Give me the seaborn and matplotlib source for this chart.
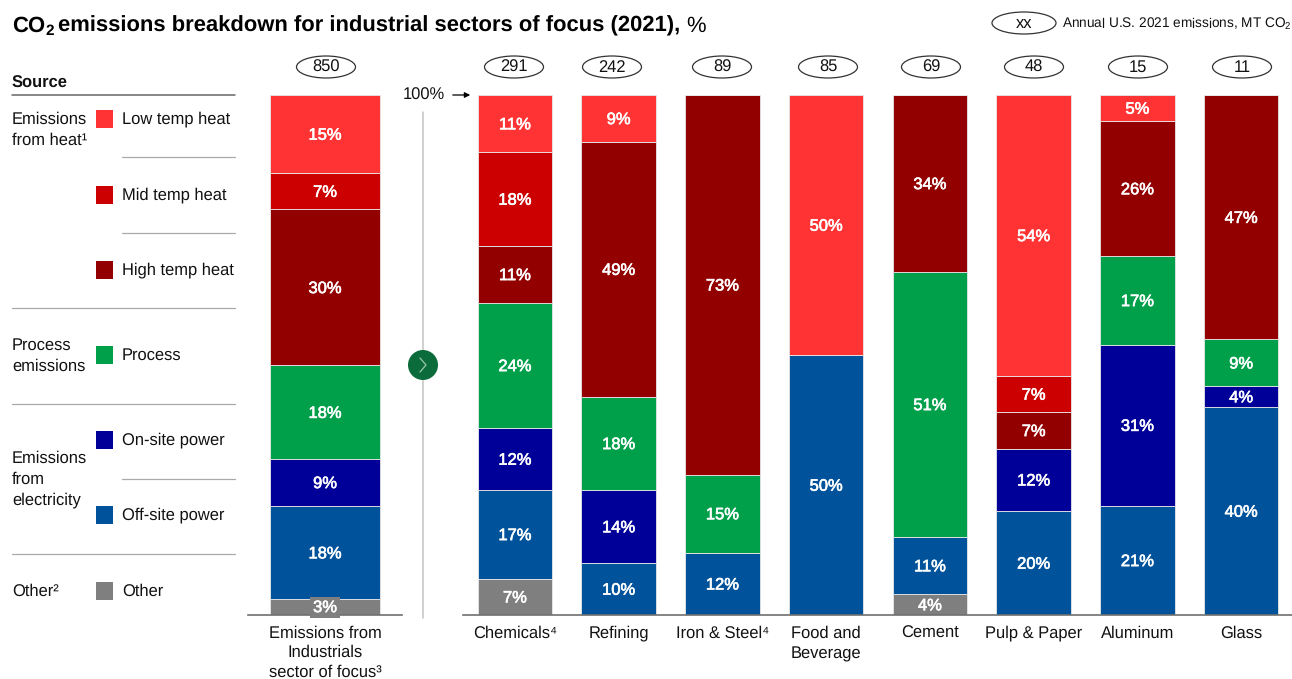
import matplotlib
matplotlib.use("Agg")
import matplotlib.pyplot as plt
import matplotlib.patheffects as pe
from matplotlib.patches import Ellipse, Circle, Rectangle
import pandas as pd
import seaborn as sns

sns.set_theme(style="white")
plt.rcParams["font.family"] = ["Liberation Sans", "DejaVu Sans"]
plt.rcParams["mathtext.fontset"] = "custom"
plt.rcParams["mathtext.rm"] = "Liberation Sans"
plt.rcParams["mathtext.bf"] = "Liberation Sans:bold"
plt.rcParams["mathtext.default"] = "regular"
plt.rcParams["text.hinting"] = "no_hinting"

# Source categories, bottom of the stack first
sources = ["Other", "Off-site power", "On-site power", "Process",
           "High temp heat", "Mid temp heat", "Low temp heat"]
colors = ["#7F7F7F", "#00539B", "#000099", "#009F4A", "#930000", "#CC0000", "#FF3333"]

total_label = "Emissions from\nIndustrials\nsector of focus³"
total_emissions = 850
total_share = [3, 18, 9, 18, 30, 7, 15]

sectors = ["Chemicals⁴", "Refining", "Iron & Steel⁴", "Food and\nBeverage",
           "Cement", "Pulp & Paper", "Aluminum", "Glass"]
sector_emissions = [291, 242, 89, 85, 69, 48, 15, 11]

other = [7, 0, 0, 0, 4, 0, 0, 0]
off_site = [17, 10, 12, 50, 11, 20, 21, 40]
on_site = [12, 14, 0, 0, 0, 12, 31, 4]
process = [24, 18, 15, 0, 51, 0, 17, 9]
high_temp = [11, 49, 73, 0, 34, 7, 26, 47]
mid_temp = [18, 0, 0, 0, 0, 7, 0, 0]
low_temp = [11, 9, 0, 50, 0, 54, 5, 0]
sector_share = [other, off_site, on_site, process, high_temp, mid_temp, low_temp]

W, H = 1292, 679
FS = 11.9
fig = plt.figure(figsize=(W / 100, H / 100), dpi=100, facecolor="white")


def px_axes(x0, x1, y_top=95, y_base=615):
    return fig.add_axes([x0 / W, 1 - y_base / H, (x1 - x0) / W, (y_base - y_top) / H])


def stacked(ax, names, layers, width, spacing):
    """Draw one stacked seaborn bar layer per source and print its share."""
    bottom = [0] * len(names)
    stroke = [pe.withStroke(linewidth=0.45, foreground="white")]
    for src, col, vals in zip(sources, colors, layers):
        df = pd.DataFrame({"name": names, "share": vals})
        before = len(ax.containers)
        sns.barplot(data=df, x="name", y="share", ax=ax, color=col, width=width,
                    bottom=bottom, errorbar=None, saturation=1,
                    edgecolor="#E8E8E8", linewidth=0.6)
        cont = ax.containers[before]
        for patch, v, b in zip(cont, vals, bottom):
            if v > 0:
                box = None
                if v == 3:
                    box = dict(facecolor=col, edgecolor="none", pad=2.0)
                ax.text(patch.get_x() + patch.get_width() / 2, b + v / 2 - (0.25 if v > 3 else 0.1),
                        f"{v}%", ha="center", va="center", color="white",
                        fontsize=FS, bbox=box, zorder=5, path_effects=stroke, clip_on=False)
        bottom = [b + v for b, v in zip(bottom, vals)]
    ax.set_ylim(0, 100)
    ax.set_xlabel("")
    ax.set_ylabel("")
    ax.set_yticks([])
    sns.despine(ax=ax, left=True, top=True, right=True)
    ax.spines["bottom"].set_color("#707070")
    ax.spines["bottom"].set_linewidth(1.2)
    ax.tick_params(axis="x", length=0, pad=7.5, labelsize=FS, labelcolor="#111111")
    for lab in ax.get_xticklabels():
        lab.set_va("top")
        lab.set_linespacing(spacing)


ax_total = px_axes(248, 402)
stacked(ax_total, [total_label], [[v] for v in total_share], 110 / 154, 1.3)
ax_total.set_xlim(-0.5, 0.5)

ax_sect = px_axes(463, 1293)
stacked(ax_sect, sectors, sector_share, 0.72, 1.4)
ax_sect.set_xlim(-0.5, 7.5)

# Overlay in pixel units for the key, rules and emission ovals
ov = fig.add_axes([0, 0, 1, 1], zorder=10)
ov.set_xlim(0, W)
ov.set_ylim(H, 0)
ov.axis("off")
ov.patch.set_alpha(0)

TXT = "#111111"
ov.text(12, 26, "$\\mathbf{CO_2}$", fontsize=15.8, va="center", ha="left", color="black")
ov.text(58.5, 26, "emissions breakdown for industrial sectors of focus (2021),", fontsize=15.8,
        fontweight="bold", va="center", ha="left", color="black")
ov.text(686, 26, "%", fontsize=15.8, va="center", ha="left", color="black")

ov.text(12, 83.5, "Source", fontsize=FS, fontweight="bold", va="center", color=TXT)
ov.plot([12, 235], [95, 95], color="#666666", lw=1.1)
for x0, y in [(122, 157), (122, 233), (12, 308), (12, 404), (122, 479), (12, 554)]:
    ov.plot([x0, 235], [y, y], color="#AAAAAA", lw=0.9)

key_y = {"Low temp heat": 119, "Mid temp heat": 195, "High temp heat": 270, "Process": 355,
         "On-site power": 440, "Off-site power": 515, "Other": 591}
for src, col in zip(sources, colors):
    y = key_y[src]
    ov.add_patch(Rectangle((96, y - 9), 17, 18, facecolor=col, edgecolor="none"))
    ov.text(122, y + 0.5, src, fontsize=FS, va="center", color=TXT)

group_labels = [("Emissions\nfrom heat¹", 130), ("Process\nemissions", 356),
                ("Emissions\nfrom\nelectricity", 479), ("Other²", 591)]
for label, y in group_labels:
    ov.text(12, y, label, fontsize=FS, va="center", color=TXT, linespacing=1.4)


def oval(x, y, w, label, size=FS):
    ov.add_patch(Ellipse((x, y), w, 22, facecolor="white", edgecolor="#333333", lw=0.9))
    ov.text(x, y + 0.5, label, ha="center", va="center", fontsize=size, color=TXT)


oval(326, 67, 59, str(total_emissions))
for x, v in zip([514, 612, 722, 828, 931, 1034, 1138, 1242], sector_emissions):
    oval(x, 67, 59, str(v))
oval(1024, 23, 64, "xx")
ov.text(1062, 24, "Annual U.S. 2021 emissions, MT CO$_{2}$", fontsize=9.8, va="center", color=TXT)

# 100% marker and the divider carrying the round arrow
ov.text(424, 95, "100%", fontsize=FS, ha="center", va="center", color=TXT)
ov.annotate("", xy=(473, 95), xytext=(450, 95),
            arrowprops=dict(arrowstyle="-|>", color="black", lw=0.9, mutation_scale=8))
ov.plot([423, 423], [112, 618], color="#C4C4C4", lw=1.1)
ov.add_patch(Circle((423, 365), 15, facecolor="#0B6B3A", edgecolor="none", zorder=3))
ov.plot([420, 426, 420], [358, 365, 372], color="#9CC7AE", lw=0.9, zorder=4)

fig.savefig("out.png", dpi=100)
